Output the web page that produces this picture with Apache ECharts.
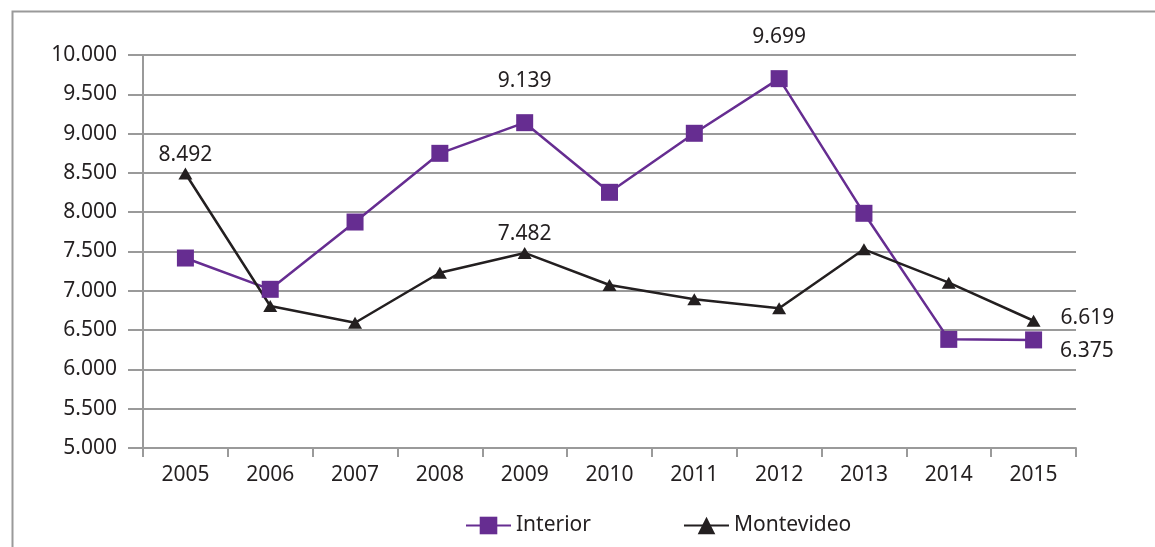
<!DOCTYPE html>
<html>
<head>
<meta charset="utf-8">
<script src="https://cdn.jsdelivr.net/npm/echarts@6/dist/echarts.min.js"></script>
<style>
  html, body { margin: 0; padding: 0; background: #fff; }
  #chart { width: 1155px; height: 547px; }
</style>
</head>
<body>
<div id="chart"></div>
<script>
  const years = ['2005', '2006', '2007', '2008', '2009', '2010', '2011', '2012', '2013', '2014', '2015']
  const interior = [7417, 7019, 7875, 8749, 9139, 8253, 9004, 9699, 7986, 6382, 6375]
  const montevideo = [8492, 6807, 6594, 7230, 7482, 7074, 6892, 6777, 7528, 7103, 6619]
  // which points carry a value label
  const interiorLabelled = ['2009', '2012', '2015']
  const montevideoLabelled = ['2005', '2009', '2015']

  const fmt = (v) => {
    let s = String(Math.round(v))
    return s.replace(/\B(?=(\d{3})+(?!\d))/g, '.')
  }

  const txt = '#231f20'
  const grey = '#9a9a9a'
  const font = 'Noto Sans'
  const fsize = 21

  let chart = echarts.init(document.getElementById('chart'))

  let labelStyle = (pos, dist) => ({
    show: true,
    position: pos,
    distance: dist,
    color: txt,
    fontFamily: font,
    fontSize: fsize,
    formatter: (p) => fmt(p.value)
  })

  let interiorData = interior.map((v, i) => {
    let item = { value: v }
    if (interiorLabelled.indexOf(years[i]) >= 0) {
      if (years[i] === '2015') {
        item.label = labelStyle('right', 18)
        item.label.offset = [0, 11]
      } else {
        item.label = labelStyle('top', 23)
      }
    }
    return item
  })

  let montevideoData = montevideo.map((v, i) => {
    let item = { value: v }
    if (montevideoLabelled.indexOf(years[i]) >= 0) {
      if (years[i] === '2015') {
        item.label = labelStyle('right', 20)
        item.label.offset = [0, -3]
      } else {
        item.label = labelStyle('top', 2)
      }
    }
    return item
  })

  let option = {
    animation: false,
    backgroundColor: '#fff',
    graphic: [{
      type: 'rect',
      left: 10,
      top: 9,
      shape: { width: 1300, height: 700 },
      style: { fill: 'none', stroke: grey, lineWidth: 2 },
      silent: true
    }],
    grid: { left: 143, right: 79, top: 55, bottom: 99 },
    legend: {
      bottom: 6,
      left: 460,
      itemWidth: 45,
      itemHeight: 22,
      itemGap: 92,
      textStyle: { color: txt, fontFamily: font, fontSize: fsize },
      data: ['Interior', 'Montevideo']
    },
    xAxis: {
      type: 'category',
      data: years,
      boundaryGap: true,
      axisLine: { lineStyle: { color: grey, width: 2 } },
      axisTick: { show: true, length: 9, lineStyle: { color: grey, width: 2 } },
      axisLabel: { color: txt, fontFamily: font, fontSize: fsize, margin: 17 }
    },
    yAxis: {
      type: 'value',
      min: 5000,
      max: 10000,
      interval: 500,
      axisLine: { show: true, lineStyle: { color: grey, width: 2 } },
      axisTick: { show: true, length: 15, lineStyle: { color: grey, width: 2 } },
      splitLine: { lineStyle: { color: grey, width: 2 } },
      axisLabel: {
        color: txt, fontFamily: font, fontSize: fsize, margin: 26,
        formatter: (v) => fmt(v)
      }
    },
    series: [
      {
        name: 'Interior',
        type: 'line',
        data: interiorData,
        symbol: 'rect',
        symbolSize: 17,
        lineStyle: { color: '#662d91', width: 2.5 },
        itemStyle: { color: '#662d91' }
      },
      {
        name: 'Montevideo',
        type: 'line',
        data: montevideoData,
        symbol: 'triangle',
        symbolSize: [14, 12],
        lineStyle: { color: txt, width: 2.5 },
        itemStyle: { color: txt }
      }
    ]
  }
  chart.setOption(option)
</script>
</body>
</html>
